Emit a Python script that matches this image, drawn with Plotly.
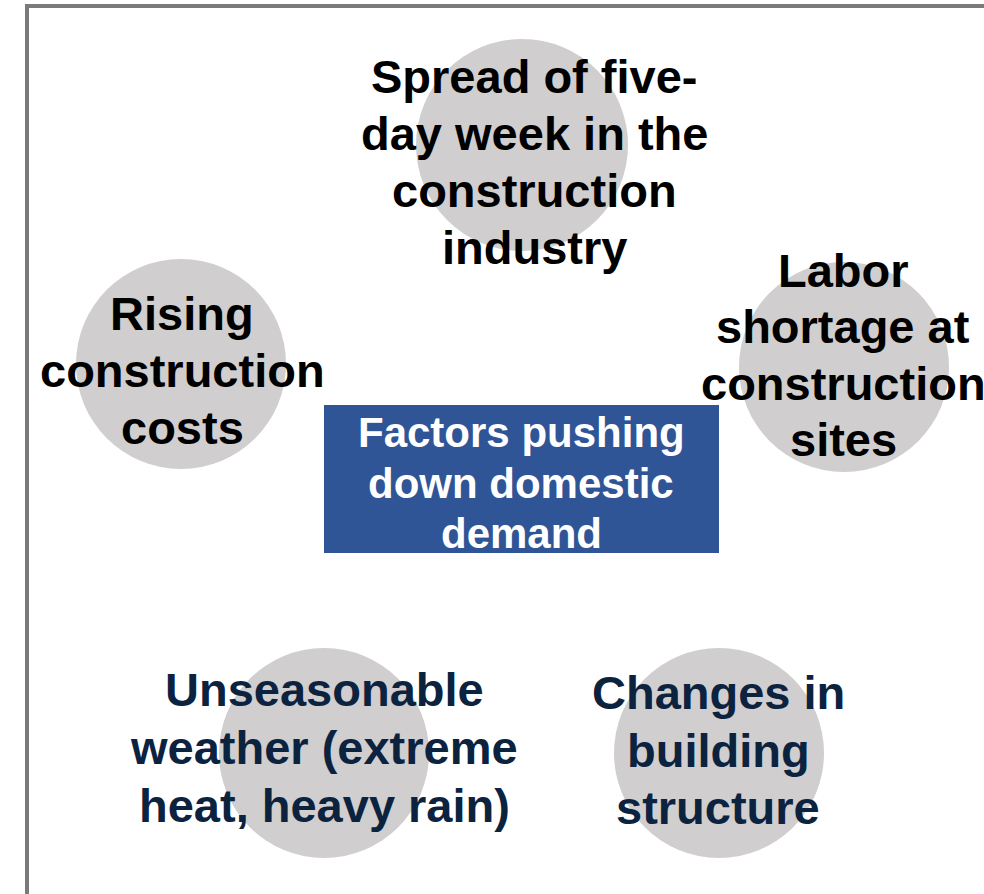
import plotly.graph_objects as go

# factor labels, one list of lines per bubble
top_lines = ["Spread of five-", "day week in the", "construction", "industry"]
left_lines = ["Rising", "construction", "costs"]
right_lines = ["Labor", "shortage at", "construction", "sites"]
bottom_left_lines = ["Unseasonable", "weather (extreme", "heat, heavy rain)"]
bottom_right_lines = ["Changes in", "building", "structure"]
center_lines = ["Factors pushing", "down domestic", "demand"]

W, H = 984, 894
FONT = "Liberation Sans, Arial, sans-serif"
GRAY = "#d0cece"
BLUE = "#2f5597"
NAVY = "#0c2340"

# (cx, cy, r) for each bubble, in pixels
bubbles = [
    (522, 145, 106),
    (181, 364, 105),
    (844, 367, 105),
    (324, 753, 105),
    (719, 753, 105),
]

# (text lines, x centre, baselines, colour, size)
blocks = [
    (top_lines, 534, [93, 150, 207, 264], "black", 47),
    (left_lines, 182, [330, 387, 444], "black", 47),
    (right_lines, 843, [287, 343, 400, 456], "black", 47),
    (bottom_left_lines, 324, [706, 764, 822], NAVY, 47),
    (bottom_right_lines, 718, [709, 767, 824], NAVY, 47),
    (center_lines, 521, [447, 498, 548], "white", 42),
]

fig = go.Figure()

shapes = []
# outer frame (only left and top edges are visible)
shapes.append(dict(type="rect", x0=27, y0=6, x1=W + 30, y1=H + 30,
                   line=dict(color="#7a7a7a", width=4), layer="below"))
for cx, cy, r in bubbles:
    shapes.append(dict(type="circle", x0=cx - r, x1=cx + r, y0=cy - r, y1=cy + r,
                       fillcolor=GRAY, line=dict(width=0), layer="below"))
shapes.append(dict(type="rect", x0=324, x1=719, y0=405, y1=553,
                   fillcolor=BLUE, line=dict(width=0), layer="below"))

annotations = []
for lines, x, baselines, color, size in blocks:
    for text, base in zip(lines, baselines):
        annotations.append(dict(
            x=x, y=base - 0.355 * size, text=text, showarrow=False,
            xanchor="center", yanchor="middle",
            font=dict(family=FONT, size=size, color=color, weight="bold"),
        ))

fig.update_layout(
    width=W, height=H,
    margin=dict(l=0, r=0, t=0, b=0),
    paper_bgcolor="white", plot_bgcolor="white",
    xaxis=dict(range=[0, W], visible=False, fixedrange=True),
    yaxis=dict(range=[H, 0], visible=False, fixedrange=True),
    shapes=shapes,
    annotations=annotations,
    showlegend=False,
)

# drop the default body margin so the figure fills the window exactly
fig.write_html(
    "out.html",
    config={"displayModeBar": False},
    post_script="document.body.style.margin='0';document.body.style.overflow='hidden';",
)
